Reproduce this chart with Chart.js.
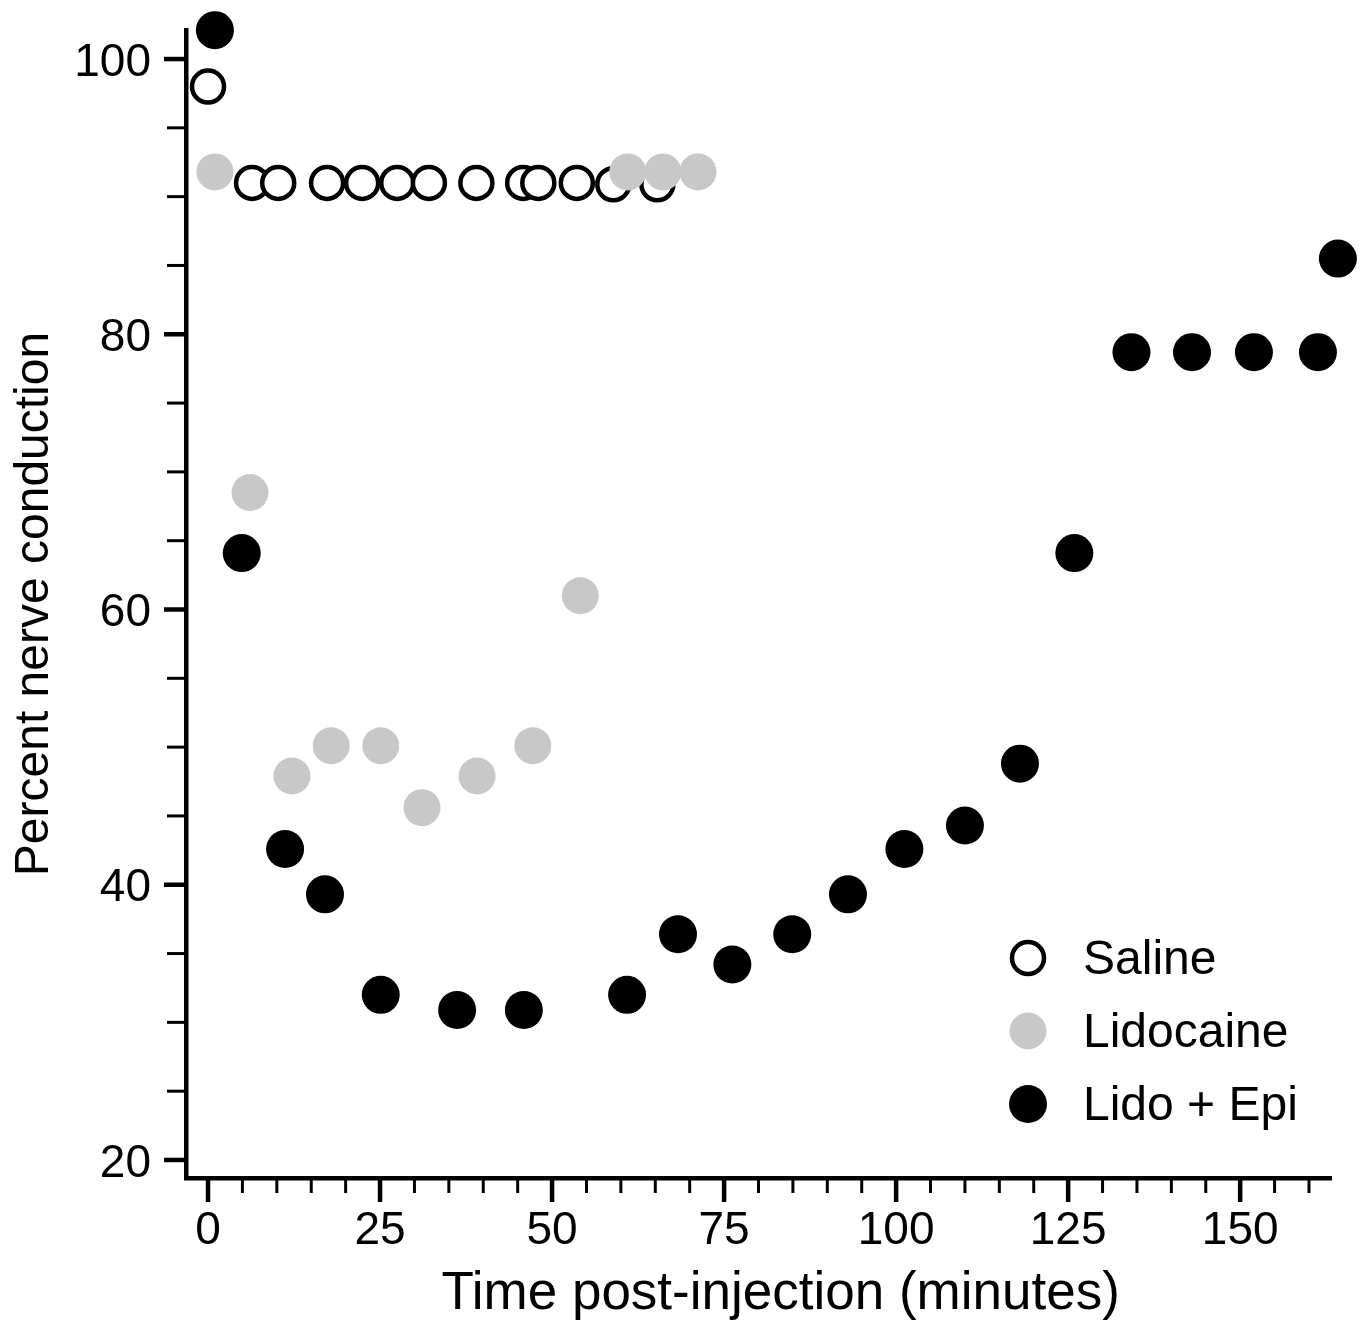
<!DOCTYPE html>
<html>
<head>
<meta charset="utf-8">
<script src="https://cdn.jsdelivr.net/npm/chart.js@4.4.1/dist/chart.umd.min.js"></script>
<style>
  html, body { margin: 0; padding: 0; background: #fff; }
  #wrap { width: 1363px; height: 1328px; }
</style>
</head>
<body>
<div id="wrap"><canvas id="nerveChart" width="1363" height="1328"></canvas></div>
<script>
// time (minutes) and percent nerve conduction for each group
const salineX = [0, 6.4, 10.2, 17.3, 22.4, 27.5, 32.1, 39.0, 45.8, 48.0, 53.6, 58.9, 65.3];
const salineY = [98, 91, 91, 91, 91, 91, 91, 91, 91, 91, 91, 90.9, 90.9];

const lidoX = [1.0, 6.1, 12.2, 17.9, 25.1, 31.1, 39.1, 47.2, 54.1, 61.0, 66.1, 71.2];
const lidoY = [91.8, 68.5, 47.9, 50.1, 50.1, 45.6, 47.9, 50.1, 61.0, 91.8, 91.8, 91.8];

const epiX = [1.0, 4.9, 11.2, 17.0, 25.1, 36.2, 45.9, 60.9, 68.3, 76.2, 84.9, 93.0, 101.2, 110.0, 118.0, 125.9, 134.2, 143.0, 152.0, 161.3, 164.2];
const epiY = [102.1, 64.1, 42.6, 39.3, 32.0, 30.9, 30.9, 32.0, 36.4, 34.2, 36.4, 39.3, 42.6, 44.3, 48.8, 64.1, 78.7, 78.7, 78.7, 78.7, 85.5];

const seriesNames = ['Saline', 'Lidocaine', 'Lido + Epi'];
// leading spaces nudge the centred title a bit to the right, like the original
const xTitle = '\u00a0\u00a0\u00a0Time post-injection (minutes)';
const yTitle = 'Percent nerve conduction';

const FONT = "'Liberation Sans', Arial, Helvetica, sans-serif";

function toPoints(xs, ys) {
    return xs.map((x, i) => ({ x: x, y: ys[i] }));
}

// tick marks: long ones at labelled values, short ones every 5
const axisTicks = {
    id: 'axisTicks',
    afterDraw(chart) {
        const { ctx, chartArea } = chart;
        const x = chart.scales.x;
        const y = chart.scales.y;
        ctx.save();
        ctx.strokeStyle = '#000';
        x.ticks.forEach(t => {
            const major = t.value % 25 === 0;
            const px = x.getPixelForValue(t.value);
            ctx.lineWidth = major ? 4.5 : 3;
            ctx.beginPath();
            ctx.moveTo(px, chartArea.bottom);
            ctx.lineTo(px, chartArea.bottom + (major ? 24 : 15));
            ctx.stroke();
        });
        y.ticks.forEach(t => {
            const major = t.value % 20 === 0;
            const py = y.getPixelForValue(t.value);
            ctx.lineWidth = major ? 4.5 : 3;
            ctx.beginPath();
            ctx.moveTo(chartArea.left, py);
            ctx.lineTo(chartArea.left - (major ? 22 : 19), py);
            ctx.stroke();
        });
        ctx.restore();
    }
};

// legend inside the plot, bottom right
const innerLegend = {
    id: 'innerLegend',
    afterDraw(chart) {
        const ctx = chart.ctx;
        const rows = [958, 1031, 1104];
        ctx.save();
        ctx.font = '48px ' + FONT;
        ctx.textBaseline = 'alphabetic';
        chart.data.datasets.forEach((ds, i) => {
            const cy = rows[i];
            ctx.beginPath();
            ctx.arc(1028, cy, ds.pointRadius, 0, Math.PI * 2);
            ctx.fillStyle = ds.backgroundColor;
            ctx.fill();
            if (ds.borderWidth) {
                ctx.lineWidth = ds.borderWidth;
                ctx.strokeStyle = ds.borderColor;
                ctx.stroke();
            }
            ctx.fillStyle = '#000';
            ctx.fillText(ds.label, 1083, cy + 16);
        });
        ctx.restore();
    }
};

const ctx = document.getElementById('nerveChart').getContext('2d');
const nerveChart = new Chart(ctx, {
    type: 'scatter',
    data: {
        datasets: [
            {
                label: seriesNames[0],
                data: toPoints(salineX, salineY),
                backgroundColor: '#ffffff',
                borderColor: '#000000',
                borderWidth: 4.5,
                pointRadius: 16,
                order: 2,
                clip: false
            },
            {
                label: seriesNames[1],
                data: toPoints(lidoX, lidoY),
                backgroundColor: '#c8c8c8',
                borderColor: '#c8c8c8',
                borderWidth: 0,
                pointRadius: 18.5,
                order: 1,
                clip: false
            },
            {
                label: seriesNames[2],
                data: toPoints(epiX, epiY),
                backgroundColor: '#000000',
                borderColor: '#000000',
                borderWidth: 0,
                pointRadius: 19,
                order: 0,
                clip: false
            }
        ]
    },
    options: {
        responsive: false,
        animation: false,
        events: [],
        layout: { padding: { top: 30, right: 32, left: 0, bottom: 0 } },
        plugins: {
            legend: { display: false },
            tooltip: { enabled: false }
        },
        scales: {
            x: {
                type: 'linear',
                min: -3.2,
                max: 163.2,
                grid: { display: false, drawTicks: false },
                border: { display: true, color: '#000', width: 4.5 },
                ticks: {
                    stepSize: 5,
                    autoSkip: false,
                    includeBounds: false,
                    maxRotation: 0,
                    minRotation: 0,
                    padding: 26,
                    color: '#000',
                    font: { family: FONT, size: 46 },
                    callback: v => (v % 25 === 0 ? String(v) : '')
                },
                title: {
                    display: true,
                    text: xTitle,
                    color: '#000',
                    font: { family: FONT, size: 53 },
                    padding: { top: 0, bottom: 2 }
                },
                afterFit(scale) {
                    scale.height = 150;
                    scale.paddingLeft = 0;
                    scale.paddingRight = 0;
                }
            },
            y: {
                type: 'linear',
                min: 18.69,
                max: 102.11,
                grid: { display: false, drawTicks: false },
                border: { display: true, color: '#000', width: 4.5 },
                ticks: {
                    stepSize: 5,
                    autoSkip: false,
                    includeBounds: false,
                    padding: 35,
                    labelOffset: 4,
                    color: '#000',
                    font: { family: FONT, size: 46 },
                    callback: v => (v % 20 === 0 ? String(v) : '')
                },
                title: {
                    display: true,
                    text: yTitle,
                    color: '#000',
                    font: { family: FONT, size: 48 },
                    padding: { top: 6, bottom: 0 }
                },
                afterFit(scale) {
                    scale.width = 186;
                    scale.paddingTop = 0;
                    scale.paddingBottom = 0;
                }
            }
        }
    },
    plugins: [axisTicks, innerLegend]
});
</script>
</body>
</html>
